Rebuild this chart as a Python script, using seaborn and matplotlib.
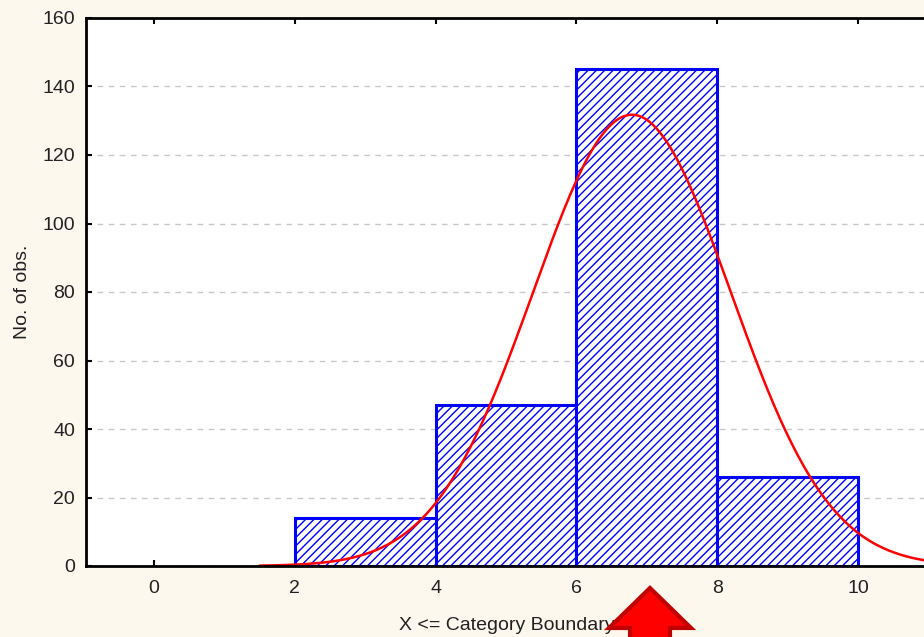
import numpy as np
import pandas as pd
import matplotlib
matplotlib.use("Agg")
import matplotlib.pyplot as plt
from matplotlib.patches import Polygon
import seaborn as sns

# Histogram: category boundaries and counts per category
bin_edges = [2, 4, 6, 8, 10]
bin_counts = [14, 47, 145, 26]

# Fitted normal curve parameters (expected counts per category)
normal_mean = 6.79
normal_sd = 1.405
curve_start, curve_end = 1.5, 12.5

x_ticks = [0, 2, 4, 6, 8, 10]
y_ticks = [0, 20, 40, 60, 80, 100, 120, 140, 160]

sns.set_theme(style="white")
plt.rcParams["font.family"] = ["Liberation Sans", "DejaVu Sans"]
plt.rcParams["hatch.linewidth"] = 1.0
plt.rcParams["hatch.color"] = "#0000ff"

BG = "#fdf8ed"
W, H, DPI = 924, 637, 100
fig = plt.figure(figsize=(W / DPI, H / DPI), dpi=DPI, facecolor=BG)

# axes placed in pixels; the right part runs past the figure edge
x_lo, x_hi = -0.965, 12.0
px_per_unit = 70.4
left_px, top_px, bottom_px = 86, 18, 566
width_px = (x_hi - x_lo) * px_per_unit
ax = fig.add_axes([left_px / W, (H - bottom_px) / H, width_px / W, (bottom_px - top_px) / H])
ax.set_facecolor("white")

mids = [(a + b) / 2 for a, b in zip(bin_edges[:-1], bin_edges[1:])]
hist_df = pd.DataFrame({"x": mids, "count": bin_counts})
sns.histplot(data=hist_df, x="x", weights="count", bins=bin_edges, ax=ax,
             stat="count", element="bars", fill=True, facecolor="white",
             edgecolor="#0000ff", linewidth=2.2, alpha=1.0, zorder=2)
for p in ax.patches:
    p.set_hatch("////")
    p.set_facecolor("white")
    p.set_edgecolor("#0000ff")

bin_width = bin_edges[1] - bin_edges[0]
n_total = sum(bin_counts)
cx = np.linspace(curve_start, curve_end, 400)
cy = n_total * bin_width * np.exp(-0.5 * ((cx - normal_mean) / normal_sd) ** 2) / (normal_sd * np.sqrt(2 * np.pi))
sns.lineplot(x=cx, y=cy, ax=ax, color="#ff0000", linewidth=1.8, zorder=3)

ax.set_xlim(x_lo, x_hi)
ax.set_ylim(0, 160)
ax.set_xticks(x_ticks)
ax.set_yticks(y_ticks)
ax.yaxis.grid(True, linestyle=(0, (4, 4)), color="#c8c8c8", linewidth=1.0, zorder=0)
ax.xaxis.grid(False)
ax.set_axisbelow(True)

for s in ax.spines.values():
    s.set_color("black")
    s.set_linewidth(2.0)
    s.set_zorder(4)

ax.tick_params(axis="both", direction="in", length=4, width=1.5, color="black",
               labelsize=14, labelcolor="#222222")
ax.tick_params(axis="x", top=True, bottom=True, pad=10)
ax.tick_params(axis="y", left=True, right=False, pad=8)

ax.set_xlabel("X <= Category Boundary", fontsize=14, color="#222222")
ax.set_ylabel("No. of obs.", fontsize=14, color="#222222")
ax.xaxis.set_label_coords((507 - left_px) / width_px, -(617 - bottom_px) / (bottom_px - top_px))
ax.yaxis.set_label_coords(-(86 - 31) / width_px, 0.5)

# red upward arrow drawn in figure pixel coordinates
arrow_px = [(650, 588), (609, 628), (630, 628), (630, 645), (670, 645), (670, 628), (691, 628)]
arrow_fig = [(x / W, 1 - y / H) for x, y in arrow_px]
fig.patches.append(Polygon(arrow_fig, closed=True, transform=fig.transFigure,
                           facecolor="#ff0000", edgecolor="#c00000", linewidth=3.0,
                           joinstyle="miter", zorder=5))

fig.savefig("out.png", dpi=DPI, facecolor=BG)
